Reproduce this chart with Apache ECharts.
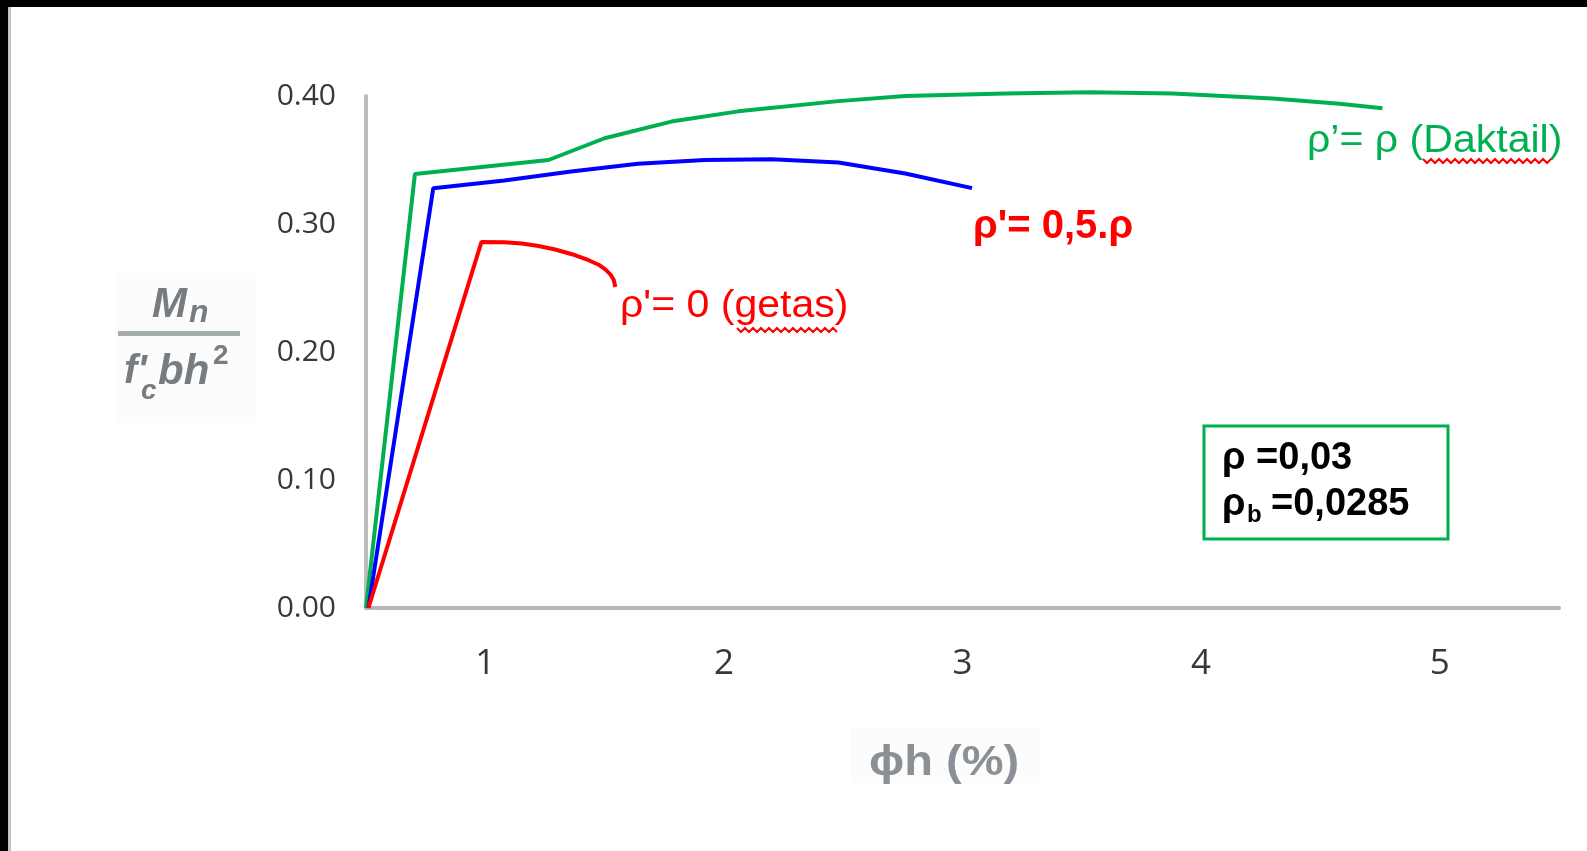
<!DOCTYPE html>
<html>
<head>
<meta charset="utf-8">
<script src="https://cdn.jsdelivr.net/npm/echarts@6/dist/echarts.min.js"></script>
<style>
  html, body { margin: 0; padding: 0; background: #fff; }
  #chart { width: 1587px; height: 851px; }
</style>
</head>
<body>
<div id="chart"></div>
<script>
// kurva rho' = rho (daktail)
const daktailX = [0.5, 0.705, 1.265, 1.5, 1.78, 2.06, 2.48, 2.76, 3.18, 3.53, 3.88, 4.3, 4.58, 4.76];
const daktailY = [0, 0.339, 0.350, 0.367, 0.380, 0.388, 0.396, 0.400, 0.402, 0.403, 0.402, 0.398, 0.394, 0.3905];
// kurva rho' = 0,5.rho
const setengahX = [0.51, 0.782, 1.08, 1.36, 1.64, 1.92, 2.2, 2.48, 2.76, 3.04];
const setengahY = [0, 0.328, 0.334, 0.341, 0.347, 0.350, 0.3505, 0.348, 0.3395, 0.328];
// kurva rho' = 0 (getas)
const getasX = [0.51, 0.984, 1.08, 1.153, 1.223, 1.293, 1.363, 1.433, 1.475, 1.503, 1.525, 1.538, 1.545];
const getasY = [0, 0.286, 0.2857, 0.2848, 0.2828, 0.2801, 0.2764, 0.2717, 0.2682, 0.2645, 0.2605, 0.2565, 0.2508];

const xTicks = [1, 2, 3, 4, 5];
const yTicks = [0, 0.1, 0.2, 0.3, 0.4];

const labelDaktail = "ρ’= ρ (Daktail)";
const labelSetengah = "ρ'= 0,5.ρ";
const labelGetas = "ρ'= 0 (getas)";
const boxLine1 = "ρ =0,03";
const boxLine2 = "=0,0285";

function pairs(xs, ys) {
  return xs.map((x, i) => [x, ys[i]]);
}

// garis bergelombang merah (spell check)
function squiggle(x0, x1, y) {
  const pts = [];
  let up = true;
  for (let x = x0; x <= x1; x += 4) {
    pts.push([x, up ? y : y + 4]);
    up = !up;
  }
  return pts;
}

const chart = echarts.init(document.getElementById("chart"));

const option = {
  animation: false,
  backgroundColor: "#fff",
  grid: {
    left: 366,
    right: 28,
    top: 96,
    bottom: 243,
    containLabel: false,
    outerBoundsMode: "none",
  },
  xAxis: {
    type: "value",
    min: 0.5,
    max: 5.5,
    interval: 0.5,
    axisLine: { show: true, onZero: false, lineStyle: { color: "#b7b7b7", width: 4 } },
    axisTick: { show: false },
    splitLine: { show: false },
    axisLabel: {
      margin: 39,
      fontFamily: "Open Sans",
      fontSize: 35,
      color: "#383838",
      showMinLabel: true,
      showMaxLabel: true,
      formatter: (v) => (xTicks.includes(v) ? String(v) : ""),
    },
  },
  yAxis: {
    type: "value",
    min: 0,
    max: 0.4,
    interval: 0.1,
    axisLine: { show: true, lineStyle: { color: "#bdbdbd", width: 4 } },
    axisTick: { show: false },
    splitLine: { show: false },
    axisLabel: {
      margin: 30,
      fontFamily: "Open Sans",
      fontSize: 30,
      color: "#383838",
      formatter: (v) => {
        const t = yTicks.find((k) => Math.abs(k - v) < 1e-9);
        return t === undefined ? "" : t.toFixed(2);
      },
    },
  },
  series: [
    {
      name: labelDaktail,
      type: "line",
      data: pairs(daktailX, daktailY),
      symbol: "none",
      clip: false,
      lineStyle: { color: "#00b050", width: 4 },
      z: 3,
    },
    {
      name: labelSetengah,
      type: "line",
      data: pairs(setengahX, setengahY),
      symbol: "none",
      clip: false,
      lineStyle: { color: "#0000ff", width: 4 },
      z: 4,
    },
    {
      name: labelGetas,
      type: "line",
      data: pairs(getasX, getasY),
      symbol: "none",
      clip: false,
      lineStyle: { color: "#ff0000", width: 4 },
      z: 5,
    },
  ],
  graphic: [
    // bingkai hitam
    { type: "rect", shape: { x: 0, y: 0, width: 1587, height: 7 }, style: { fill: "#000" }, z: 100 },
    { type: "rect", shape: { x: 0, y: 0, width: 8, height: 851 }, style: { fill: "#000" }, z: 100 },
    { type: "rect", shape: { x: 8, y: 7, width: 3, height: 844 }, style: { fill: "#c4c4c4" }, z: 100 },

    // judul sumbu y: Mn / f'c bh^2
    { type: "rect", shape: { x: 115, y: 273, width: 142, height: 150 }, style: { fill: "#fcfcfc" }, z: 1 },
    { type: "text", x: 152, y: 305, style: { text: "M", font: "italic bold 42px 'Liberation Sans'", fill: "#767c80", verticalAlign: "middle" }, z: 2 },
    { type: "text", x: 189, y: 313, style: { text: "n", font: "italic bold 32px 'Liberation Sans'", fill: "#767c80", verticalAlign: "middle" }, z: 2 },
    { type: "rect", shape: { x: 118, y: 331, width: 122, height: 5 }, style: { fill: "#a3abae" }, z: 2 },
    { type: "text", x: 124, y: 372, style: { text: "f'", font: "italic bold 40px 'Liberation Sans'", fill: "#767c80", verticalAlign: "middle" }, z: 2 },
    { type: "text", x: 141, y: 391, style: { text: "c", font: "italic bold 28px 'Liberation Sans'", fill: "#767c80", verticalAlign: "middle" }, z: 2 },
    { type: "text", x: 158, y: 372, style: { text: "bh", font: "italic bold 42px 'Liberation Sans'", fill: "#767c80", verticalAlign: "middle" }, z: 2 },
    { type: "text", x: 213, y: 356, style: { text: "2", font: "bold 28px 'Liberation Sans'", fill: "#767c80", verticalAlign: "middle" }, z: 2 },

    // judul sumbu x
    { type: "rect", shape: { x: 850, y: 727, width: 190, height: 56 }, style: { fill: "#fcfcfc" }, z: 1 },
    { type: "text", x: 869, y: 763, scaleX: 1.12, style: { text: "ϕh (%)", font: "bold 42px 'Liberation Sans'", fill: "#8a9095", verticalAlign: "middle" }, z: 2 },

    // label kurva
    { type: "text", x: 620, y: 307, scaleX: 1.08, style: { text: labelGetas, font: "38px 'Liberation Sans'", fill: "#ff0000", verticalAlign: "middle" }, z: 10 },
    { type: "polyline", shape: { points: squiggle(737, 838, 328) }, style: { stroke: "#ff0000", lineWidth: 2, fill: null }, z: 10 },
    { type: "text", x: 973, y: 227, style: { text: labelSetengah, font: "bold 40px 'Liberation Sans'", fill: "#ff0000", verticalAlign: "middle" }, z: 10 },
    { type: "text", x: 1307, y: 142, scaleX: 1.08, style: { text: labelDaktail, font: "38px 'Liberation Sans'", fill: "#00b050", verticalAlign: "middle" }, z: 10 },
    { type: "polyline", shape: { points: squiggle(1423, 1553, 159) }, style: { stroke: "#ff0000", lineWidth: 2, fill: null }, z: 10 },

    // kotak keterangan
    { type: "rect", shape: { x: 1204, y: 426, width: 244, height: 113 }, style: { fill: "#fff", stroke: "#00b050", lineWidth: 3 }, z: 10 },
    { type: "text", x: 1222, y: 459, style: { text: boxLine1, font: "bold 38px 'Liberation Sans'", fill: "#000", verticalAlign: "middle" }, z: 11 },
    { type: "text", x: 1222, y: 505, style: { text: "ρ", font: "bold 38px 'Liberation Sans'", fill: "#000", verticalAlign: "middle" }, z: 11 },
    { type: "text", x: 1247, y: 515, style: { text: "b", font: "bold 24px 'Liberation Sans'", fill: "#000", verticalAlign: "middle" }, z: 11 },
    { type: "text", x: 1271, y: 505, style: { text: boxLine2, font: "bold 38px 'Liberation Sans'", fill: "#000", verticalAlign: "middle" }, z: 11 },
  ],
};

chart.setOption(option);
</script>
</body>
</html>
